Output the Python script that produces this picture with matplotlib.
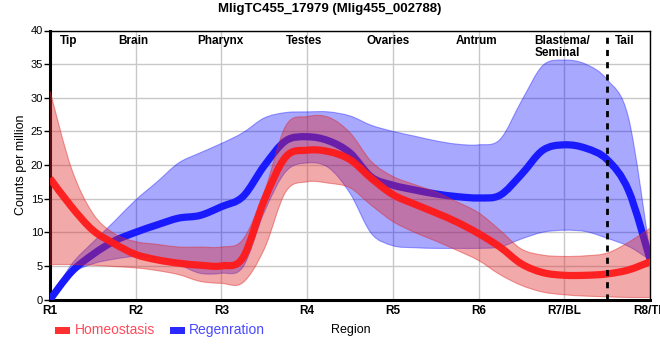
import matplotlib
matplotlib.use('Agg')
import matplotlib.pyplot as plt
import numpy as np
from matplotlib.patches import Rectangle, PathPatch
from matplotlib.path import Path

plt.rcParams['font.family'] = ['Liberation Sans', 'DejaVu Sans']

title = "MligTC455_17979 (Mlig455_002788)"
tick_labels = ['R1', 'R2', 'R3', 'R4', 'R5', 'R6', 'R7/BL', 'R8/TL']
region_names = ['Tip', 'Brain', 'Pharynx', 'Testes', 'Ovaries', 'Antrum', 'Blastema/\nSeminal', 'Tail']
region_pos = [0.22, 0.97, 1.99, 2.96, 3.94, 4.98, 5.65, 6.70]
boundary = 6.5

# sample positions along the region axis (quarter steps between R1..R8)
pos = np.arange(29) * 0.25

homeo_mean = [18.0, 13.8, 10.3, 8.3, 6.7, 5.9, 5.4, 5.1, 5.0, 6.2, 14.8, 21.2, 22.2, 22.0, 20.8,
              18.0, 15.6, 14.2, 12.9, 11.5, 9.8, 7.8, 5.3, 4.0, 3.6, 3.6, 3.8, 4.4, 5.6]
homeo_upper = [31.0, 19.5, 12.8, 9.8, 8.6, 8.2, 7.8, 7.8, 7.8, 8.9, 16.0, 25.8, 27.2, 27.1, 24.8,
               20.5, 18.3, 17.1, 16.0, 14.5, 12.9, 10.3, 7.5, 6.6, 6.4, 6.5, 6.9, 8.5, 10.6]
homeo_lower = [5.2, 5.2, 5.1, 4.9, 4.7, 4.3, 3.7, 2.7, 2.4, 2.5, 7.5, 16.0, 17.5, 17.3, 16.6,
               14.0, 11.6, 10.0, 8.7, 7.3, 5.8, 3.7, 2.1, 1.1, 0.7, 0.5, 0.4, 0.3, 0.3]

regen_mean = [0.0, 4.1, 6.7, 8.7, 10.0, 11.1, 12.1, 12.5, 13.8, 15.3, 19.9, 23.6, 24.2, 23.6, 21.8,
              18.2, 17.0, 16.3, 15.7, 15.3, 15.1, 15.5, 18.6, 22.2, 23.0, 22.5, 20.8, 16.2, 6.0]
regen_upper = [0.0, 5.2, 8.5, 11.6, 14.8, 17.5, 20.3, 21.8, 23.2, 24.8, 27.0, 27.8, 27.9, 27.9, 27.3,
               25.9, 25.0, 24.3, 23.6, 23.1, 23.0, 23.8, 29.5, 34.8, 35.6, 35.0, 32.7, 27.0, 7.0]
regen_lower = [0.0, 3.8, 5.3, 6.0, 6.4, 6.2, 5.2, 3.9, 3.9, 4.8, 13.0, 19.0, 20.3, 19.6, 15.8,
               9.8, 8.0, 7.7, 7.6, 7.6, 7.6, 7.8, 9.0, 10.0, 10.3, 10.1, 9.1, 7.9, 5.9]


def spline_segments(xs, ys):
    """Cubic Bezier segments (Catmull-Rom style) through the given points."""
    pts = np.column_stack([xs, ys]).astype(float)
    n = len(pts)
    verts, codes = [], []
    for i in range(n - 1):
        p0 = pts[i - 1] if i > 0 else pts[i]
        p1 = pts[i]
        p2 = pts[i + 1]
        p3 = pts[i + 2] if i + 2 < n else pts[i + 1]
        c1 = p1 + (p2 - p0) / 6.0
        c2 = p2 - (p3 - p1) / 6.0
        verts += [tuple(c1), tuple(c2), tuple(p2)]
        codes += [Path.CURVE4] * 3
    return pts, verts, codes


def line_path(xs, ys):
    pts, v, c = spline_segments(xs, ys)
    return Path([tuple(pts[0])] + v, [Path.MOVETO] + c)


def band_path(xs, lo, hi):
    pu, vu, cu = spline_segments(xs, hi)
    pl, vl, cl = spline_segments(xs[::-1], lo[::-1])
    verts = [tuple(pu[0])] + vu + [tuple(pl[0])] + vl + [tuple(pu[0])]
    codes = [Path.MOVETO] + cu + [Path.LINETO] + cl + [Path.CLOSEPOLY]
    return Path(verts, codes)


fig = plt.figure(figsize=(6.6, 3.6), dpi=100)
ax = fig.add_axes([50/660, 60.5/360, 600/660, 269/360])

blue = '#0000ff'
red = '#e02828'

hm, hu, hl = np.array(homeo_mean), np.array(homeo_upper), np.array(homeo_lower)
rm, ru, rl = np.array(regen_mean), np.array(regen_upper), np.array(regen_lower)


def add(path, **kw):
    p = PathPatch(path, transform=ax.transData, **kw)
    ax.add_patch(p)
    return p


add(band_path(pos, rl, ru), facecolor=blue, alpha=0.34, lw=0, zorder=2)
add(line_path(pos, ru), fill=False, edgecolor=blue, alpha=0.35, lw=0.8, zorder=2)
add(line_path(pos, rl), fill=False, edgecolor=blue, alpha=0.35, lw=0.8, zorder=2)
add(line_path(pos, rm), fill=False, edgecolor='#1a1aff', lw=5.2, capstyle='butt', joinstyle='round', zorder=3)

add(band_path(pos, hl, hu), facecolor=red, alpha=0.4, lw=0, zorder=4)
add(line_path(pos, hu), fill=False, edgecolor=red, alpha=0.45, lw=0.8, zorder=4)
add(line_path(pos, hl), fill=False, edgecolor=red, alpha=0.45, lw=0.8, zorder=4)
add(line_path(pos, hm), fill=False, edgecolor='#ff1a1a', alpha=0.95, lw=5.2, capstyle='butt', joinstyle='round', zorder=5)

ax.axvline(boundary, color='black', lw=2, ls=(0, (2.2, 2.2)), zorder=6)

ax.set_xlim(0, 7)
ax.set_ylim(0, 40)
ax.set_xticks(range(8))
ax.set_xticklabels(tick_labels, fontsize=8.5, fontweight='bold')
ax.set_yticks(range(0, 41, 5))
ax.tick_params(axis='x', length=0, pad=4)
ax.tick_params(axis='y', length=4, width=1, labelsize=8, pad=1)
ax.grid(True, color='#c8c8c8', lw=1, zorder=0)
ax.set_axisbelow(True)
for s in ['top', 'right']:
    ax.spines[s].set_linewidth(1)
for s in ['left', 'bottom']:
    ax.spines[s].set_linewidth(2.2)
for lbl in ax.get_xticklabels():
    lbl.set_clip_on(False)

ax.set_ylabel('Counts per million', fontsize=9, labelpad=3)
fig.text(351/660, 1 - 330/360, 'Region', ha='center', va='center', fontsize=9)

for name, xp in zip(region_names, region_pos):
    if '\n' in name:
        ax.text(xp, 39.4, name, ha='left', va='top', fontsize=8.5, fontweight='bold',
                linespacing=1.0, zorder=7)
    else:
        ax.text(xp, 39.4, name, ha='center', va='top', fontsize=8.5, fontweight='bold', zorder=7)

fig.suptitle(title, x=330/660, y=1 - 3/360, va='top', fontsize=9.5, fontweight='bold')

# legend
fig.patches.append(Rectangle((55/660, 1 - 334/360), 15/660, 7/360, transform=fig.transFigure,
                             facecolor='#ff3030', edgecolor='none'))
fig.text(75/660, 1 - 330/360, 'Homeostasis', color='#ff4a5a', fontsize=10, va='center', ha='left')
fig.patches.append(Rectangle((170/660, 1 - 334/360), 15/660, 7/360, transform=fig.transFigure,
                             facecolor='#2a2aff', edgecolor='none'))
fig.text(189/660, 1 - 330/360, 'Regenration', color='#4a4aff', fontsize=10, va='center', ha='left')

fig.savefig('out.png', dpi=100)
